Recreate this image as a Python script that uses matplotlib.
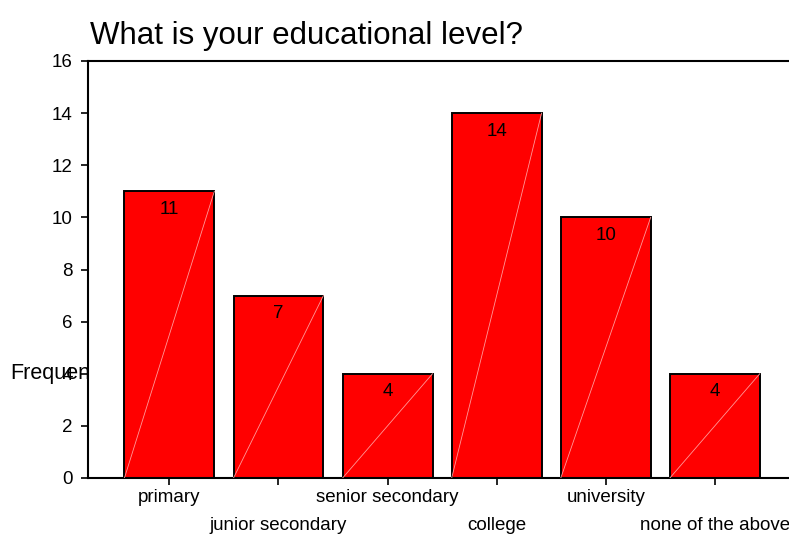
import matplotlib.pyplot as plt

plt.rcParams['font.family'] = ['Liberation Sans', 'DejaVu Sans']

levels = ['primary', 'junior secondary', 'senior secondary',
          'college', 'university', 'none of the above']
counts = [11, 7, 4, 14, 10, 4]

fig = plt.figure(figsize=(7.89, 5.36), dpi=100)
ax = fig.add_axes([88 / 789, 1 - 478 / 536, 1 - 88 / 789, (478 - 61) / 536])

pos = list(range(len(levels)))
width = 0.824
bars = ax.bar(pos, counts, width=width, color='#ff0000', edgecolor='black',
              linewidth=1.4, zorder=2)

# faint diagonal across each bar
for x, h in zip(pos, counts):
    ax.plot([x - width / 2, x + width / 2], [0, h], color='#ff9999',
            linewidth=0.6, zorder=3)
    ax.annotate(str(h), (x, h), xytext=(0, -7), textcoords='offset points',
                ha='center', va='top', fontsize=13.5, zorder=4)

ax.set_xlim(-0.746, 5.68)
ax.set_ylim(0, 16)
ax.set_yticks(range(0, 17, 2))
ax.set_xticks(pos)
ax.set_xticklabels([lab if i % 2 == 0 else '\n' + lab for i, lab in enumerate(levels)])
for t in ax.get_xticklabels():
    t.set_linespacing(1.85)

ax.tick_params(axis='both', direction='out', length=5, width=1.2, labelsize=13.5, pad=3)
ax.tick_params(axis='y', pad=6)
for side in ['left', 'bottom', 'top']:
    ax.spines[side].set_linewidth(1.5)
ax.spines['right'].set_visible(False)

ax.set_title('What is your educational level?', fontsize=22.5, loc='left',
             x=0.003, y=1.0, pad=12)

# axis label sits behind the axes so its tail is hidden
fig.text(10 / 789, 1 - 374 / 536, 'Frequency', fontsize=15.5, va='center',
         ha='left', zorder=-1)

fig.savefig('out.png', dpi=100)
